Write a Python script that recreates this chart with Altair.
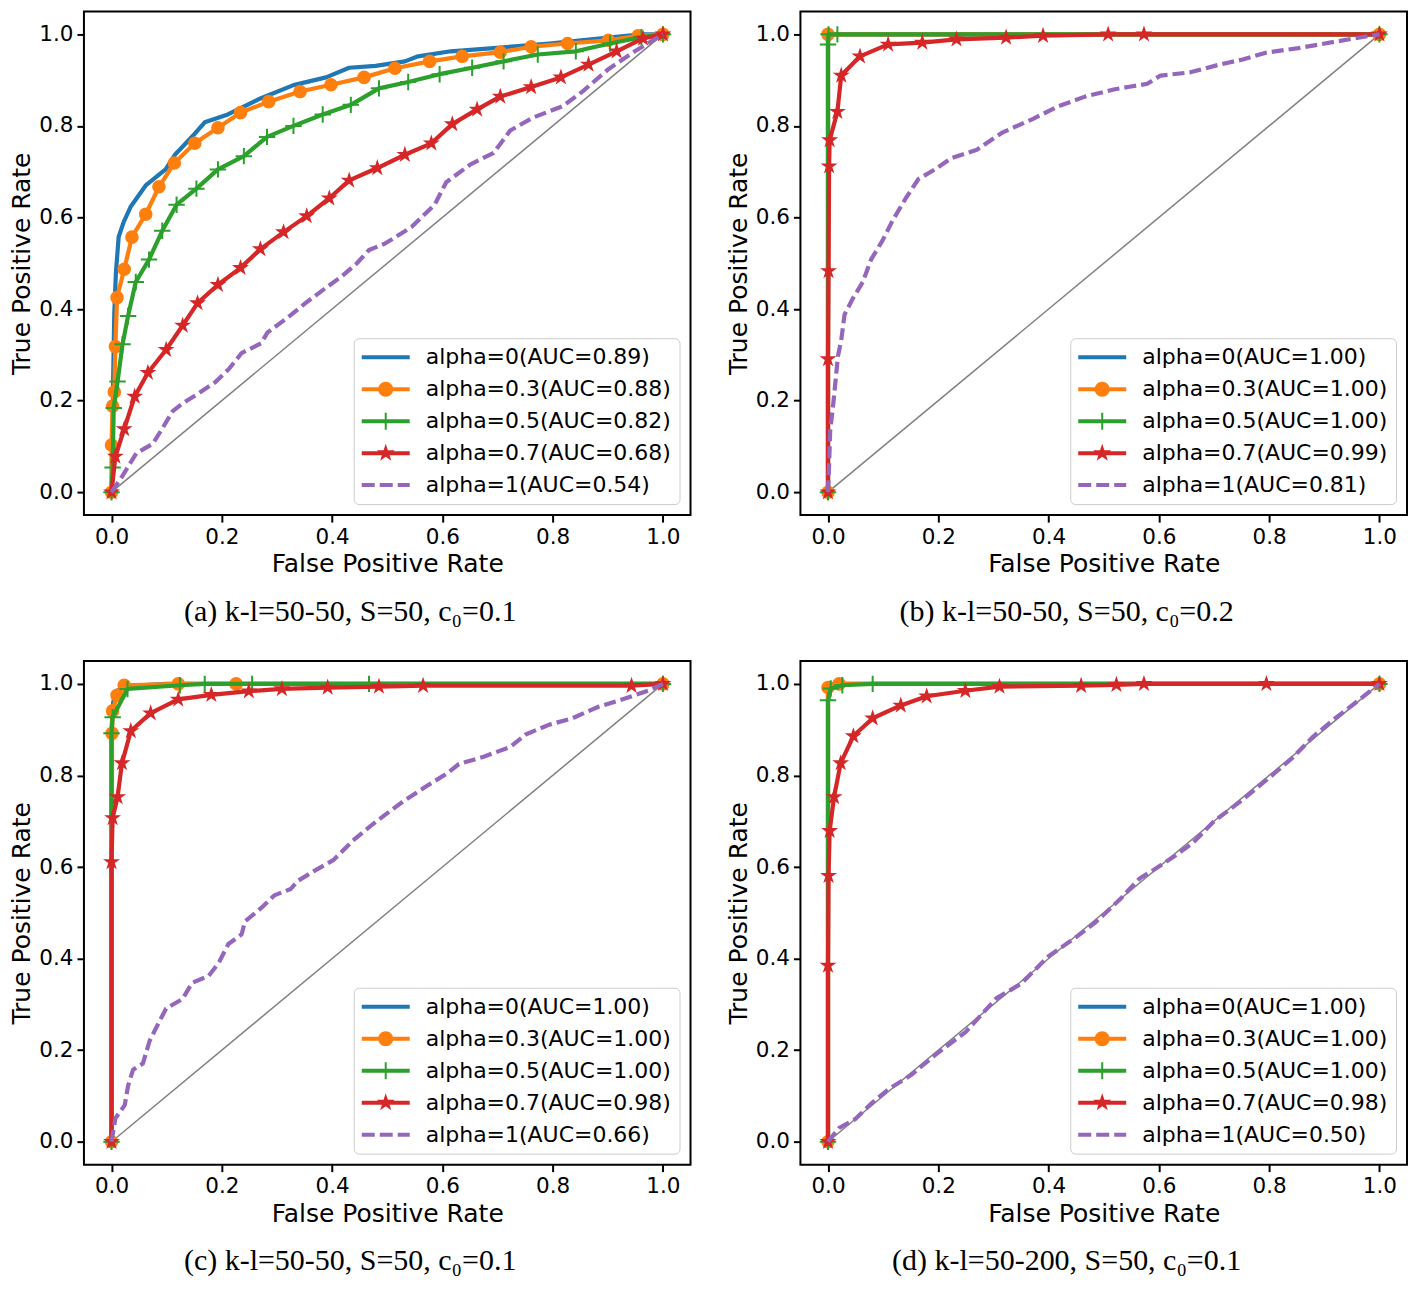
import math
import pandas as pd
import altair as alt

# ---------------- data ----------------
ALPHAS = ["0", "0.3", "0.5", "0.7", "1"]
COLORS = ["#1f77b4", "#ff7f0e", "#2ca02c", "#d62728", "#9467bd"]
TICKS = [0.0, 0.2, 0.4, 0.6, 0.8, 1.0]

AUC_A = ["0.89", "0.88", "0.82", "0.68", "0.54"]
AUC_B = ["1.00", "1.00", "1.00", "0.99", "0.81"]
AUC_C = ["1.00", "1.00", "1.00", "0.98", "0.66"]
AUC_D = ["1.00", "1.00", "1.00", "0.98", "0.50"]

CAPTIONS = [
    "(a) k-l=50-50, S=50, c\u2080=0.1",
    "(b) k-l=50-50, S=50, c\u2080=0.2",
    "(c) k-l=50-50, S=50, c\u2080=0.1",
    "(d) k-l=50-200, S=50, c\u2080=0.1",
]

# panel (a)
A_ALPHA0 = [(0, 0), (0.002, 0.10), (0.003, 0.25), (0.005, 0.39), (0.008, 0.48), (0.013, 0.558),
            (0.022, 0.59), (0.035, 0.624), (0.062, 0.670), (0.098, 0.705), (0.115, 0.737),
            (0.151, 0.783), (0.169, 0.808), (0.211, 0.825), (0.270, 0.860), (0.330, 0.889),
            (0.389, 0.906), (0.431, 0.927), (0.479, 0.931), (0.532, 0.941), (0.556, 0.952),
            (0.615, 0.963), (0.693, 0.970), (0.794, 0.980), (0.883, 0.991), (0.961, 1.0), (1, 1)]
A_ALPHA03 = [(0, 0), (0, 0.103), (0.002, 0.188), (0.005, 0.219), (0.007, 0.318), (0.010, 0.425),
             (0.023, 0.487), (0.037, 0.557), (0.062, 0.607), (0.086, 0.667), (0.114, 0.719),
             (0.151, 0.762), (0.193, 0.796), (0.234, 0.829), (0.285, 0.853), (0.342, 0.875),
             (0.398, 0.890), (0.458, 0.906), (0.514, 0.926), (0.577, 0.941), (0.636, 0.952),
             (0.705, 0.961), (0.761, 0.973), (0.827, 0.980), (0.901, 0.987), (0.955, 0.997), (1, 1)]
A_ALPHA05 = [(0, 0), (0.002, 0.054), (0.004, 0.184), (0.011, 0.242), (0.020, 0.323), (0.030, 0.385),
             (0.044, 0.459), (0.068, 0.508), (0.092, 0.571), (0.118, 0.628), (0.154, 0.663),
             (0.193, 0.705), (0.240, 0.734), (0.282, 0.776), (0.330, 0.800), (0.383, 0.825),
             (0.434, 0.846), (0.485, 0.882), (0.538, 0.896), (0.595, 0.913), (0.654, 0.927),
             (0.711, 0.941), (0.773, 0.956), (0.842, 0.963), (0.904, 0.980), (0.961, 0.994), (1, 1)]
A_ALPHA07 = [(0, 0), (0.007, 0.078), (0.023, 0.138), (0.042, 0.209), (0.066, 0.261), (0.099, 0.311),
             (0.129, 0.364), (0.156, 0.413), (0.193, 0.453), (0.234, 0.490), (0.270, 0.531),
             (0.312, 0.568), (0.354, 0.603), (0.395, 0.642), (0.431, 0.681), (0.482, 0.708),
             (0.532, 0.737), (0.580, 0.762), (0.618, 0.804), (0.663, 0.836), (0.705, 0.864),
             (0.761, 0.885), (0.815, 0.906), (0.865, 0.934), (0.916, 0.963), (0.964, 0.991), (1, 1)]
A_ALPHA1 = [(0, 0), (0.018, 0.032), (0.045, 0.085), (0.075, 0.106), (0.090, 0.135), (0.111, 0.177),
            (0.129, 0.194), (0.158, 0.216), (0.188, 0.240), (0.212, 0.268), (0.236, 0.304),
            (0.271, 0.325), (0.283, 0.349), (0.319, 0.381), (0.355, 0.416), (0.385, 0.443),
            (0.419, 0.473), (0.445, 0.500), (0.467, 0.529), (0.496, 0.543), (0.544, 0.579),
            (0.586, 0.628), (0.607, 0.677), (0.651, 0.716), (0.693, 0.741), (0.723, 0.790),
            (0.764, 0.818), (0.818, 0.843), (0.854, 0.875), (0.901, 0.924), (0.949, 0.963), (1, 1)]

# panel (b)
B_ALPHA0 = [(0, 0), (0, 1.0), (1, 1)]
B_ALPHA03 = [(0, 0), (0, 1.0), (1, 1)]
B_ALPHA05 = [(0, 0), (0, 0.978), (0.001, 1.0), (0.017, 1.0), (1, 1)]
B_ALPHA07 = [(0, 0), (0, 0.291), (0.001, 0.483), (0.002, 0.712), (0.003, 0.769), (0.017, 0.831),
             (0.024, 0.910), (0.058, 0.952), (0.109, 0.978), (0.171, 0.982), (0.233, 0.989),
             (0.323, 0.993), (0.390, 0.997), (0.508, 1.0), (0.573, 1.0), (1, 1)]
B_ALPHA1 = [(0, 0), (0.002, 0.06), (0.004, 0.135), (0.010, 0.198), (0.018, 0.297), (0.024, 0.332),
            (0.030, 0.388), (0.045, 0.423), (0.063, 0.459), (0.078, 0.508), (0.099, 0.550),
            (0.117, 0.593), (0.141, 0.642), (0.164, 0.684), (0.194, 0.705), (0.224, 0.730),
            (0.270, 0.748), (0.317, 0.786), (0.371, 0.815), (0.418, 0.843), (0.466, 0.864),
            (0.520, 0.880), (0.544, 0.885), (0.579, 0.892), (0.603, 0.910), (0.657, 0.917),
            (0.710, 0.934), (0.752, 0.945), (0.794, 0.960), (0.853, 0.970), (0.901, 0.980),
            (0.954, 0.991), (1, 1)]

# panel (c)
C_ALPHA0 = [(0, 0), (0, 0.90), (0.003, 0.96), (0.010, 0.985), (0.030, 0.995), (0.100, 1.0), (1, 1)]
C_ALPHA03 = [(0, 0), (0.001, 0.892), (0.002, 0.941), (0.010, 0.975), (0.023, 0.997), (0.121, 1.0),
             (0.226, 1.0), (1, 1)]
C_ALPHA05 = [(0, 0), (0, 0.892), (0.002, 0.927), (0.029, 0.989), (0.124, 0.997), (0.169, 1.0),
             (0.255, 1.0), (0.467, 1.0), (1, 1)]
C_ALPHA07 = [(0, 0), (0, 0.611), (0.002, 0.707), (0.011, 0.753), (0.019, 0.827), (0.035, 0.897),
             (0.071, 0.936), (0.121, 0.966), (0.181, 0.976), (0.249, 0.984), (0.309, 0.989),
             (0.392, 0.992), (0.485, 0.994), (0.565, 0.996), (0.943, 0.996), (1, 1)]
C_ALPHA1 = [(0, 0), (0.007, 0.051), (0.024, 0.080), (0.030, 0.122), (0.039, 0.157), (0.057, 0.171),
            (0.069, 0.220), (0.084, 0.256), (0.099, 0.291), (0.129, 0.312), (0.146, 0.347),
            (0.176, 0.362), (0.194, 0.390), (0.212, 0.432), (0.236, 0.453), (0.242, 0.481),
            (0.271, 0.510), (0.295, 0.538), (0.325, 0.552), (0.337, 0.569), (0.367, 0.591),
            (0.402, 0.615), (0.438, 0.658), (0.470, 0.690), (0.496, 0.714), (0.532, 0.746),
            (0.568, 0.774), (0.609, 0.805), (0.630, 0.825), (0.675, 0.841), (0.723, 0.862),
            (0.752, 0.890), (0.794, 0.911), (0.836, 0.925), (0.883, 0.950), (0.931, 0.968),
            (0.973, 0.985), (1, 1)]

# panel (d)
D_ALPHA0 = [(0, 0), (0, 0.99), (0.010, 1.0), (1, 1)]
D_ALPHA03 = [(0, 0), (0, 0.992), (0.020, 1.0), (1, 1)]
D_ALPHA05 = [(0, 0), (0, 0.964), (0.005, 0.990), (0.026, 0.997), (0.081, 1.0), (1, 1)]
D_ALPHA07 = [(0, 0), (0, 0.385), (0.001, 0.581), (0.003, 0.679), (0.011, 0.753), (0.023, 0.827),
             (0.046, 0.886), (0.081, 0.925), (0.132, 0.953), (0.179, 0.973), (0.249, 0.985),
             (0.311, 0.994), (0.459, 0.996), (0.523, 0.998), (0.573, 1.0), (0.795, 1.0), (1, 1)]
D_ALPHA1 = [(0, 0), (0.020, 0.030), (0.050, 0.050), (0.080, 0.085), (0.109, 0.114), (0.150, 0.145),
            (0.200, 0.195), (0.250, 0.240), (0.305, 0.313), (0.350, 0.345), (0.400, 0.405),
            (0.450, 0.447), (0.484, 0.478), (0.530, 0.530), (0.565, 0.575), (0.591, 0.594),
            (0.630, 0.625), (0.662, 0.653), (0.700, 0.700), (0.750, 0.745), (0.800, 0.795),
            (0.841, 0.837), (0.880, 0.885), (0.920, 0.925), (0.960, 0.962), (1, 1)]

DIAGONAL = [(0, 0), (1, 1)]

# ---------------- styling ----------------
FONT = "DejaVu Sans"
W, H = 607, 504
DOMAIN = [-0.05, 1.05]


def star(cx=0.0, cy=0.0, r_out=1.0, r_in=0.382):
    pts = []
    for k in range(10):
        ang = -math.pi / 2 + k * math.pi / 5
        r = r_out if k % 2 == 0 else r_in
        pts.append((cx + r * math.cos(ang), cy + r * math.sin(ang)))
    return "M" + "L".join(f"{x:.3f},{y:.3f}" for x, y in pts) + "Z"


STAR = star()
PLUS = "M-1,0H1M0,-1V1"

# legend symbols (unit = 10 px, symbol centre 11 px from entry left)
SEG = "M-1.1,-0.2H3.7V0.2H-1.1Z"
LEGEND_SHAPES = [
    SEG,
    SEG + " M2.05,0A0.75,0.75 0 1,1 0.55,0A0.75,0.75 0 1,1 2.05,0Z",
    SEG + " M1.2,-0.85H1.4V0.85H1.2Z",
    SEG + " " + star(1.3, 0.0, 0.95, 0.37),
    "M-1.1,-0.2H0.2V0.2H-1.1Z M0.7,-0.2H2.0V0.2H0.7Z M2.5,-0.2H3.7V0.2H2.5Z",
]


def to_df(pts):
    return pd.DataFrame({"x": [p[0] for p in pts], "y": [p[1] for p in pts],
                         "i": list(range(len(pts)))})


def panel(curves, aucs, caption):
    labels = [f"alpha={a}(AUC={u})" for a, u in zip(ALPHAS, aucs)]
    xenc = alt.X("x:Q", scale=alt.Scale(domain=DOMAIN, nice=False, zero=False),
                 axis=alt.Axis(values=TICKS, format=".1f", title="False Positive Rate"))
    yenc = alt.Y("y:Q", scale=alt.Scale(domain=DOMAIN, nice=False, zero=False),
                 axis=alt.Axis(values=TICKS, format=".1f", title="True Positive Rate"))
    layers = [alt.Chart(to_df(DIAGONAL)).mark_line(color="#808080", strokeWidth=1.5)
              .encode(x=xenc, y=yenc, order="i:Q")]
    for k, pts in enumerate(curves):
        base = alt.Chart(to_df(pts))
        kw = dict(color=COLORS[k], strokeWidth=4.2, strokeJoin="round")
        if k == 4:
            kw.update(strokeDash=[12, 5], strokeCap="butt")
        layers.append(base.mark_line(**kw).encode(x=xenc, y=yenc, order="i:Q"))
        if k == 1:
            layers.append(base.mark_point(shape="circle", filled=True, size=185, color=COLORS[k],
                                          opacity=1).encode(x=xenc, y=yenc))
        elif k == 2:
            layers.append(base.mark_point(shape=PLUS, filled=False, size=270, strokeWidth=2,
                                          color=COLORS[k], opacity=1).encode(x=xenc, y=yenc))
        elif k == 3:
            layers.append(base.mark_point(shape=STAR, filled=True, size=320, color=COLORS[k],
                                          opacity=1).encode(x=xenc, y=yenc))
    leg_df = pd.DataFrame({"x": [-0.5] * 5, "y": [-0.5] * 5, "series": labels})
    leg = alt.Legend(orient="bottom-right", offset=11, title=None, labelOffset=42,
                     symbolSize=400, symbolStrokeWidth=0, symbolOpacity=1)
    layers.append(
        alt.Chart(leg_df).mark_point(filled=True, size=400, opacity=1, clip=True).encode(
            x=xenc, y=yenc,
            color=alt.Color("series:N", scale=alt.Scale(domain=labels, range=COLORS),
                            legend=leg, title=None),
            shape=alt.Shape("series:N", scale=alt.Scale(domain=labels, range=LEGEND_SHAPES),
                            legend=leg, title=None),
        )
    )
    return alt.layer(*layers).properties(
        width=W, height=H,
        title=alt.TitleParams(caption, orient="bottom", anchor="middle", frame="bounds",
                              offset=20, font="Liberation Serif", fontSize=30,
                              fontWeight="normal", color="black"),
    )


pa = panel([A_ALPHA0, A_ALPHA03, A_ALPHA05, A_ALPHA07, A_ALPHA1], AUC_A, CAPTIONS[0])
pb = panel([B_ALPHA0, B_ALPHA03, B_ALPHA05, B_ALPHA07, B_ALPHA1], AUC_B, CAPTIONS[1])
pc = panel([C_ALPHA0, C_ALPHA03, C_ALPHA05, C_ALPHA07, C_ALPHA1], AUC_C, CAPTIONS[2])
pd_ = panel([D_ALPHA0, D_ALPHA03, D_ALPHA05, D_ALPHA07, D_ALPHA1], AUC_D, CAPTIONS[3])


def indep(c):
    return c.resolve_scale(color="independent", shape="independent", x="independent",
                           y="independent").resolve_legend(color="independent",
                                                           shape="independent")


row1 = indep(alt.hconcat(pa, pb, spacing=33))
row2 = indep(alt.hconcat(pc, pd_, spacing=33))
chart = indep(alt.vconcat(row1, row2, spacing=32))

chart = chart.properties(
    padding={"left": 0, "top": 2, "right": 2, "bottom": 0}
).configure_view(
    stroke="black", strokeWidth=2
).configure_axis(
    labelFont=FONT, labelFontSize=21.5, labelColor="black", labelPadding=4,
    titleFont=FONT, titleFontSize=25, titleFontWeight="normal", titleColor="black",
    tickColor="black", tickWidth=2, tickSize=7, grid=False, domain=False,
).configure_axisX(titlePadding=4).configure_axisY(titlePadding=4).configure_legend(
    labelFont=FONT, labelFontSize=22, labelColor="black", labelLimit=500,
    padding=8, rowPadding=10, cornerRadius=5, strokeColor="#cccccc",
    fillColor="rgba(255,255,255,0.8)",
)

chart.save("out.html", embed_options={"renderer": "svg", "actions": False})
